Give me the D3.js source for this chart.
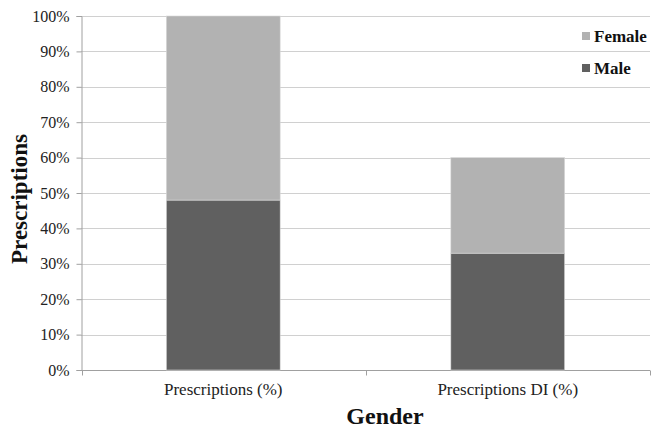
<!DOCTYPE html>
<html>
<head>
<meta charset="utf-8">
<script src="https://cdn.jsdelivr.net/npm/d3@7"></script>
<style>
  html, body { margin: 0; padding: 0; background: #fff; }
  svg { display: block; }
  svg text { font-family: "Liberation Serif", "Times New Roman", serif; }
</style>
</head>
<body>
<svg id="chart" width="651" height="428"></svg>
<script>
// Share of prescriptions by gender (percent)
const categories = ["Prescriptions (%)", "Prescriptions DI (%)"];
const maleValues = [48, 33];
const femaleValues = [52, 27];
const seriesNames = ["Male", "Female"];
const yTicks = [0, 10, 20, 30, 40, 50, 60, 70, 80, 90, 100];

const colors = { Male: "#606060", Female: "#b2b2b2" };
const serif = "'Liberation Serif', 'Times New Roman', serif";

const svg = d3.select("#chart");
const margin = { left: 81, right: 1, top: 16, bottom: 58 };
const W = 651, H = 428;

const x = d3.scaleBand().domain(categories).range([margin.left, W - margin.right]).paddingInner(0).paddingOuter(0);
const y = d3.scaleLinear().domain([0, 100]).range([H - margin.bottom, margin.top]);

const rows = categories.map((c, i) => ({ category: c, Male: maleValues[i], Female: femaleValues[i] }));
const stacked = d3.stack().keys(seriesNames)(rows);

// Horizontal gridlines
svg.append("g").selectAll("line").data(yTicks.filter(t => t > 0)).join("line")
  .attr("x1", margin.left).attr("x2", W - margin.right)
  .attr("y1", d => Math.round(y(d)) + 0.5).attr("y2", d => Math.round(y(d)) + 0.5)
  .attr("stroke", "#d0d0d0").attr("stroke-width", 1);

// Y axis
const yAxis = svg.append("g").attr("transform", `translate(${margin.left + 0.5},0)`)
  .call(d3.axisLeft(y).tickValues(yTicks).tickFormat(d => d + "%").tickSize(5).tickPadding(7));
yAxis.attr("font-family", null);
yAxis.select(".domain").attr("stroke", "#a0a0a0");
yAxis.selectAll(".tick line").attr("stroke", "#a0a0a0");
yAxis.selectAll(".tick text").attr("font-size", 16).attr("fill", "#222")
  .style("font-family", serif);

// X axis baseline with category separators
const baseY = Math.round(y(0)) + 0.5;
svg.append("line").attr("x1", margin.left).attr("x2", W - margin.right)
  .attr("y1", baseY).attr("y2", baseY).attr("stroke", "#a0a0a0");
const seps = [margin.left + 0.5, ...categories.map(c => x(c) + x.bandwidth())];
svg.append("g").selectAll("line").data(seps).join("line")
  .attr("x1", d => Math.min(Math.round(d) + 0.5, W - 0.5)).attr("x2", d => Math.min(Math.round(d) + 0.5, W - 0.5))
  .attr("y1", baseY).attr("y2", baseY + 5).attr("stroke", "#a0a0a0");

// Stacked bars
const barW = x.bandwidth() * 0.4;
svg.append("g").selectAll("g").data(stacked).join("g")
  .attr("fill", d => colors[d.key])
  .selectAll("rect").data(d => d).join("rect")
  .attr("x", d => x(d.data.category) + (x.bandwidth() - barW) / 2)
  .attr("width", barW)
  .attr("y", d => y(d[1]))
  .attr("height", d => y(d[0]) - y(d[1]))
  .attr("stroke", "#d8d8d8").attr("stroke-width", 0.6);

// Category labels
svg.append("g").selectAll("text").data(categories).join("text")
  .attr("x", d => x(d) + x.bandwidth() / 2).attr("y", 395)
  .attr("text-anchor", "middle").attr("font-size", 17).attr("fill", "#222")
  .style("font-family", serif)
  .text(d => d);

// Axis titles
svg.append("text").attr("x", 385).attr("y", 424).attr("text-anchor", "middle")
  .style("font-family", serif)
  .attr("font-size", 24).attr("font-weight", "bold").attr("fill", "#111").text("Gender");
svg.append("text").attr("transform", "translate(27,199) rotate(-90)").attr("text-anchor", "middle")
  .style("font-family", serif)
  .attr("font-size", 23).attr("font-weight", "bold").attr("fill", "#111").text("Prescriptions");

// Legend
const legendItems = ["Female", "Male"];
const lg = svg.append("g").selectAll("g").data(legendItems).join("g")
  .attr("transform", (d, i) => `translate(582,${36 + i * 32})`);
lg.append("rect").attr("x", 0).attr("y", -4).attr("width", 8).attr("height", 8)
  .attr("fill", d => colors[d]);
lg.append("text").attr("x", 12).attr("y", 6).attr("font-size", 17).attr("font-weight", "bold")
  .style("font-family", serif)
  .attr("fill", "#111").text(d => d);
</script>
</body>
</html>
